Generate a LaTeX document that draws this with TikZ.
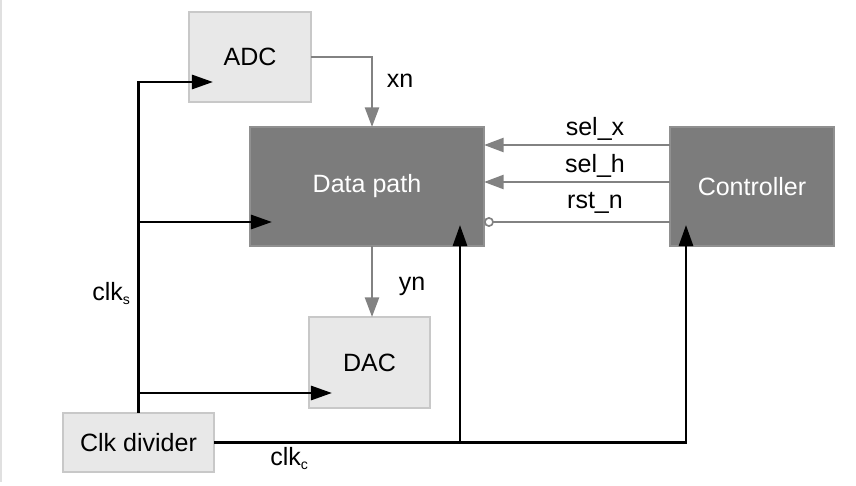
\documentclass[tikz,border=0pt]{standalone}
\usepackage{fontspec}
\setmainfont{Liberation Sans}
\usetikzlibrary{arrows.meta}
\definecolor{boxlight}{HTML}{E8E8E8}
\definecolor{boxedge}{HTML}{C8C8C8}
\definecolor{boxdark}{HTML}{7C7C7C}
\definecolor{sig}{HTML}{828282}
\newcommand{\clksub}[1]{\raisebox{-0.35ex}{\fontsize{10}{10}\selectfont #1}}

\begin{document}
\begin{tikzpicture}[x=0.025cm, y=-0.025cm,
		font=\fontsize{17.8}{21}\selectfont,
		lblock/.style={draw=boxedge, line width=0.8pt, fill=boxlight, inner sep=0pt, outer sep=0pt},
		dblock/.style={draw=boxdark!85, line width=0.8pt, fill=boxdark, text=white, inner sep=0pt, outer sep=0pt},
		clk/.style={line width=2pt, -{Triangle[length=15pt, width=10pt]}},
		sigline/.style={draw=sig, line width=1.7pt, -{Triangle[length=14pt, width=10pt, fill=sig]}}]
			\useasboundingbox (0,0) rectangle (856,486);
			\fill[black!12] (0,0) rectangle (2,482);
			
			\node[lblock, minimum width=3.05cm, minimum height=2.25cm] (adc) at (250,57) {ADC};
			\node[dblock, minimum width=5.85cm, minimum height=2.975cm] (dp) at (367,186.5) {Data path};
			\node[dblock, minimum width=4.1cm, minimum height=2.975cm] (ctrl) at (752,186.5) {Controller};
			\node[lblock, minimum width=3.025cm, minimum height=2.275cm] (dac) at (369.5,362.5) {DAC};
			\node[lblock, minimum width=3.775cm, minimum height=1.475cm] (cdiv) at (138.5,442.5) {Clk divider};
			
			\coordinate (adcin) at (213,82);
			\coordinate (dpin) at (272,222);
			\coordinate (dacin) at (332,393);
			\coordinate (dpup) at (460,225);
			\coordinate (ctrlup) at (686,225);
			\coordinate (selx) at (670,145);
			\coordinate (selh) at (670,182);
			\coordinate (rstn) at (670,222);
			
			\draw[clk] (cdiv.north) |- (adcin);
			\draw[clk] (cdiv.north |- dpin) -- (dpin);
			\draw[clk] (cdiv.north |- dacin) -- (dacin);
			\draw[clk] (cdiv.east) -| (ctrlup);
			\draw[clk] (cdiv.east -| dpup) -- (dpup);
			
			\draw[sigline] (adc.east) -| ([xshift=1.25mm]dp.north);
			\draw[sigline] ([xshift=1.25mm]dp.south) -- ([xshift=1.25mm]dp.south |- dac.north);
			\draw[sigline] (selx) -- (selx -| dp.east);
			\draw[sigline] (selh) -- (selh -| dp.east);
			\draw[draw=sig, line width=1.2pt, -{Circle[open, length=7pt, width=7pt]}] (rstn) -- (rstn -| dp.east);
			
			\node[anchor=base] (xn) at (400,88) {xn};
			\node[anchor=base] (yn) at (412,290) {yn};
			\node[anchor=base] (lselx) at (595,135) {sel\_x};
			\node[anchor=base] (lselh) at (595,172) {sel\_h};
			\node[anchor=base] (lrstn) at (595,208) {rst\_n};
			\node[anchor=base west, inner sep=0pt] (clks) at (92,300) {clk\clksub{s}};
			\node[anchor=base west, inner sep=0pt] (clkc) at (270,465) {clk\clksub{c}};
		\end{tikzpicture}
\end{document}
